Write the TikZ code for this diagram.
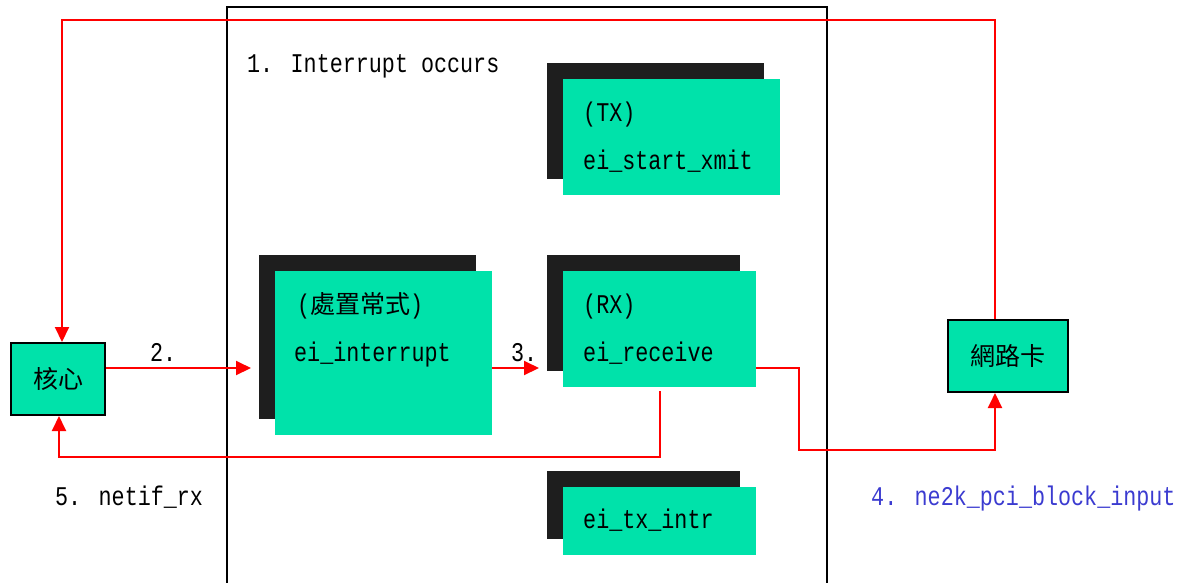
\documentclass[tikz,border=0pt]{standalone}
\usepackage{fontspec}
\setmainfont[FakeStretch=0.805]{Liberation Mono}
\newfontfamily\cjk{Noto Sans CJK TC}
\usetikzlibrary{arrows.meta}
\definecolor{boxgreen}{HTML}{00E2AA}
\definecolor{shadowc}{HTML}{1E1E1E}
\definecolor{linkred}{HTML}{FF0000}
\definecolor{labelblue}{HTML}{3B3BD0}
\tikzset{
  greenbox/.style={fill=boxgreen, draw=none, inner sep=0pt, anchor=north west},
  shadowbox/.style={fill=shadowc, draw=none, inner sep=0pt, anchor=north west},
  endbox/.style={fill=boxgreen, draw=black, line width=2pt, inner sep=0pt},
  txt/.style={anchor=base west, inner sep=0pt, font=\fontsize{27}{30}\selectfont},
  cjktxt/.style={inner sep=0pt, font=\cjk\fontsize{25}{28}\selectfont},
  link/.style={draw=linkred, line width=2pt},
  linkarrow/.style={link, -{Triangle[length=15pt,width=14pt]}}
}
\begin{document}
\begin{tikzpicture}[x=1pt,y=-1pt]
\useasboundingbox (0,0) rectangle (1182,582);
% main frame
\draw[line width=2pt] (227,585) -- (227,7) -- (827,7) -- (827,585);
% TX box
\node[shadowbox, minimum width=217pt, minimum height=116pt] (txs) at (547,63) {};
\node[greenbox, minimum width=217pt, minimum height=116pt] (tx) at (563,79) {};
\node[txt] (txa) at (583,121) {(TX)};
\node[txt] (txb) at (583,169) {ei\_start\_xmit};
% interrupt box
\node[shadowbox, minimum width=217pt, minimum height=164pt] (intrs) at (259,255) {};
\node[greenbox, minimum width=217pt, minimum height=164pt] (intr) at (275,271) {};
\node[txt] (intra) at (297,313) {(\hbox{\cjk\fontsize{25}{28}\selectfont 處置常式})};
\node[txt] (intrb) at (294,361) {ei\_interrupt};
% RX box
\node[shadowbox, minimum width=193pt, minimum height=116pt] (rxs) at (547,255) {};
\node[greenbox, minimum width=193pt, minimum height=116pt] (rx) at (563,271) {};
\node[txt] (rxa) at (583,313) {(RX)};
\node[txt] (rxb) at (583,361) {ei\_receive};
% tx_intr box
\node[shadowbox, minimum width=193pt, minimum height=68pt] (tis) at (547,471) {};
\node[greenbox, minimum width=193pt, minimum height=68pt] (ti) at (563,487) {};
\node[txt] (tia) at (583,528) {ei\_tx\_intr};
% end boxes
\node[endbox, minimum width=94pt, minimum height=72pt] (kernel) at (58,379) {};
\node[cjktxt] (kernelt) at (kernel.center) {核心};
\node[endbox, minimum width=120pt, minimum height=72pt] (nic) at (1008,356) {};
\node[cjktxt] (nict) at (nic.center) {網路卡};
% labels
\node[txt] (l1) at (247,72) {1. Interrupt occurs};
\node[txt] (l2) at (150,361) {2.};
\node[txt] (l3) at (511,361) {3.};
\node[txt, text=labelblue] (l4) at (871,505) {4. ne2k\_pci\_block\_input};
\node[txt] (l5) at (55,505) {5. netif\_rx};
% connector ends
\coordinate (tip2) at (251,368);
\coordinate (tip3) at (539,368);
\coordinate (start5) at (660,391);
% connectors
\draw[linkarrow] ([yshift=11pt]kernel.east) -- (tip2);
\draw[linkarrow] (intr.east |- tip2) -- (tip3);
\draw[linkarrow] (rx.east |- tip2) -- (799,368) -- (799,450) -| ([xshift=-13pt]nic.south);
\draw[linkarrow] (start5) -- (660,457) -| ([xshift=1pt]kernel.south);
\draw[linkarrow] ([xshift=-13pt]nic.north) |- (62,20) -- ([xshift=4pt]kernel.north);
\end{tikzpicture}
\end{document}
